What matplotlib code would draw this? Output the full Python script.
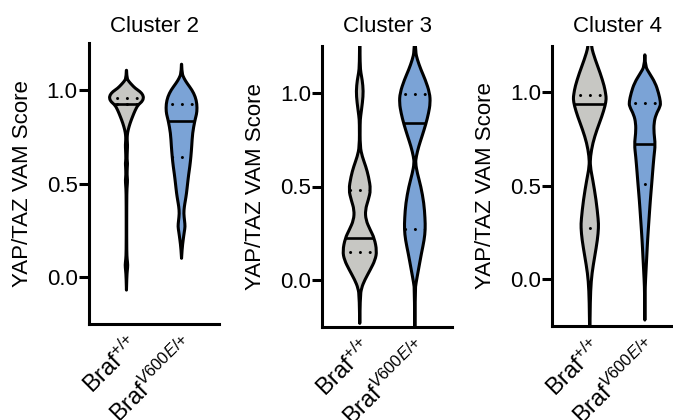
import numpy as np
import matplotlib
matplotlib.use("Agg")
import matplotlib.pyplot as plt
from matplotlib.path import Path
from matplotlib.patches import PathPatch

plt.rcParams['font.family'] = ['Liberation Sans', 'DejaVu Sans']
plt.rcParams['mathtext.fontset'] = 'custom'
plt.rcParams['mathtext.rm'] = 'Liberation Sans'
plt.rcParams['mathtext.it'] = 'Liberation Sans:italic'
plt.rcParams['mathtext.bf'] = 'Liberation Sans:bold'

clusters = ["Cluster 2", "Cluster 3", "Cluster 4"]
genotypes = [r"$\mathrm{Braf}^{\mathit{{+}/{+}}}$", r"$\mathrm{Braf}^{\mathit{V600E/{+}}}$"]
ylabel = "YAP/TAZ VAM Score"
yticks = [0.0, 0.5, 1.0]
ytick_labels = ["0.0", "0.5", "1.0"]
fill_colors = ["#c7c7c3", "#7ba3d6"]

# Violin outlines: score levels and density half-widths
c2_wt_y = [-0.07, 0.00, 0.035, 0.064, 0.095, 0.135, 0.296, 0.456, 0.49, 0.519, 0.545,
           0.59, 0.608, 0.63, 0.68, 0.706, 0.735, 0.76, 0.786, 0.822, 0.857, 0.893,
           0.920, 0.937, 0.955, 0.973, 0.991, 1.009, 1.027, 1.045, 1.062, 1.125]
c2_wt_w = [0, 0.006, 0.015, 0.025, 0.012, 0.005, 0.004, 0.006, 0.014, 0.02, 0.01,
           0.015, 0.02, 0.01, 0.016, 0.02, 0.012, 0.015, 0.03, 0.065, 0.11, 0.16,
           0.21, 0.28, 0.31, 0.30, 0.25, 0.16, 0.10, 0.045, 0.008, 0]

c2_mut_y = [0.10, 0.15, 0.20, 0.242, 0.27, 0.30, 0.34, 0.376, 0.41, 0.447, 0.50, 0.55,
            0.59, 0.643, 0.70, 0.77, 0.834, 0.857, 0.884, 0.925, 0.964, 1.000, 1.036,
            1.062, 1.089, 1.160]
c2_mut_w = [0, 0.01, 0.03, 0.05, 0.065, 0.055, 0.04, 0.05, 0.07, 0.09, 0.11, 0.13,
            0.15, 0.17, 0.185, 0.20, 0.24, 0.26, 0.28, 0.28, 0.25, 0.19, 0.10,
            0.045, 0.008, 0]

c3_wt_y = [-0.232, -0.09, -0.044, 0.0, 0.054, 0.107, 0.155, 0.223, 0.268, 0.321, 0.375,
           0.428, 0.482, 0.553, 0.607, 0.66, 0.714, 0.84, 0.875, 0.95, 1.01, 1.07,
           1.107, 1.15, 1.35]
c3_wt_w = [0, 0.008, 0.03, 0.09, 0.19, 0.28, 0.31, 0.265, 0.19, 0.11, 0.10,
           0.155, 0.20, 0.16, 0.11, 0.045, 0.006, 0.006, 0.015, 0.05, 0.065, 0.045,
           0.02, 0.006, 0]

c3_mut_y = [-0.35, -0.054, -0.018, 0.054, 0.143, 0.214, 0.272, 0.33, 0.41, 0.5, 0.571,
            0.625, 0.66, 0.714, 0.768, 0.834, 0.893, 0.946, 1.0, 1.071, 1.125, 1.179,
            1.22, 1.35]
c3_mut_w = [0, 0.006, 0.02, 0.065, 0.12, 0.17, 0.19, 0.185, 0.165, 0.11, 0.045,
            0.012, 0.025, 0.07, 0.13, 0.20, 0.25, 0.28, 0.27, 0.19, 0.11, 0.045,
            0.012, 0]

c4_wt_y = [-0.35, -0.2, -0.057, 0.033, 0.122, 0.211, 0.277, 0.318, 0.425, 0.532, 0.604,
           0.657, 0.729, 0.800, 0.871, 0.929, 0.965, 0.990, 1.032, 1.103, 1.174, 1.246,
           1.35]
c4_wt_w = [0, 0.005, 0.015, 0.04, 0.09, 0.14, 0.16, 0.155, 0.115, 0.055, 0.008,
           0.012, 0.055, 0.13, 0.22, 0.28, 0.30, 0.29, 0.265, 0.19, 0.10, 0.025, 0]

c4_mut_y = [-0.218, -0.075, -0.004, 0.122, 0.211, 0.318, 0.425, 0.511, 0.568, 0.657,
            0.721, 0.782, 0.835, 0.880, 0.925, 0.948, 0.996, 1.050, 1.103, 1.139, 1.228]
c4_mut_w = [0, 0.004, 0.012, 0.035, 0.05, 0.075, 0.10, 0.125, 0.14, 0.165,
            0.19, 0.165, 0.165, 0.20, 0.28, 0.285, 0.25, 0.19, 0.08, 0.008, 0]

# Quartiles: Q1, median, Q3
c2_wt_q = [0.924, 0.925, 0.959]
c2_mut_q = [0.643, 0.834, 0.925]
c3_wt_q = [0.150, 0.223, 0.480]
c3_mut_q = [0.272, 0.839, 0.995]
c4_wt_q = [0.277, 0.935, 0.983]
c4_mut_q = [0.511, 0.721, 0.945]

panels = [
    [(c2_wt_y, c2_wt_w, c2_wt_q), (c2_mut_y, c2_mut_w, c2_mut_q)],
    [(c3_wt_y, c3_wt_w, c3_wt_q), (c3_mut_y, c3_mut_w, c3_mut_q)],
    [(c4_wt_y, c4_wt_w, c4_wt_q), (c4_mut_y, c4_mut_w, c4_mut_q)],
]

W, H = 673, 420
LW = 2.2


def violin(ax, pos, ys, ws, q, color):
    ys = np.asarray(ys, float)
    ws = np.asarray(ws, float)
    right = np.column_stack([pos + ws, ys])
    left = np.column_stack([pos - ws[::-1], ys[::-1]])
    pts = np.vstack([right, left[1:]])
    verts = [pts[0]]
    codes = [Path.MOVETO]
    n = len(pts)
    for i in range(1, n - 1):
        end = pts[i + 1] if i == n - 2 else (pts[i] + pts[i + 1]) / 2
        verts += [pts[i], end]
        codes += [Path.CURVE3, Path.CURVE3]
    verts.append(pts[0])
    codes.append(Path.CLOSEPOLY)
    patch = PathPatch(Path(verts, codes), facecolor=color, edgecolor="black",
                      lw=LW, joinstyle="round", zorder=2)
    ax.add_patch(patch)
    for k, val in enumerate(q):
        if k == 1:
            ln, = ax.plot([pos - 0.5, pos + 0.5], [val, val], color="black",
                          lw=1.9, zorder=3)
        else:
            ln, = ax.plot([pos - 0.5, pos + 0.5], [val, val], color="black",
                          lw=2.2, linestyle=(0.5, (0.01, 3.2)),
                          dash_capstyle="round", zorder=3)
        ln.set_clip_path(patch)


fig = plt.figure(figsize=(W / 100, H / 100), dpi=100)

# left edge and zero-level position (pixels) for each panel
lefts = [89, 322.3, 552.3]
zeros = [277, 280, 279.3]
unit = 187
ax_w = 130

for i, (title, pdata) in enumerate(zip(clusters, panels)):
    top = zeros[i] - 1.25 * unit
    ax = fig.add_axes([lefts[i] / W, 1 - (top + 1.5 * unit) / H, ax_w / W, 1.5 * unit / H])
    ax.set_xlim(-0.68, 1.68)
    ax.set_ylim(-0.25, 1.25)
    for j, (ys, ws, q) in enumerate(pdata):
        violin(ax, j, ys, ws, q, fill_colors[j])
    for s in ["top", "right"]:
        ax.spines[s].set_visible(False)
    for s in ["left", "bottom"]:
        ax.spines[s].set_linewidth(LW)
    ax.set_yticks(yticks)
    ax.set_yticklabels(ytick_labels)
    ax.tick_params(axis="y", length=7.2, width=LW, labelsize=16, pad=1)
    ax.set_xticks([0, 1])
    ax.set_xticklabels(genotypes, rotation=45, ha="right", va="top",
                       rotation_mode="anchor", fontsize=17)
    ax.tick_params(axis="x", length=0, pad=6)
    ax.set_ylabel(ylabel, fontsize=16)
    ax.yaxis.set_label_coords(-0.43, 0.5)
    cx = (lefts[i] + ax_w / 2) / W
    fig.text(cx, 1 - 32 / H, title, ha="center", va="baseline", fontsize=16)

fig.savefig("out.png", dpi=100)
